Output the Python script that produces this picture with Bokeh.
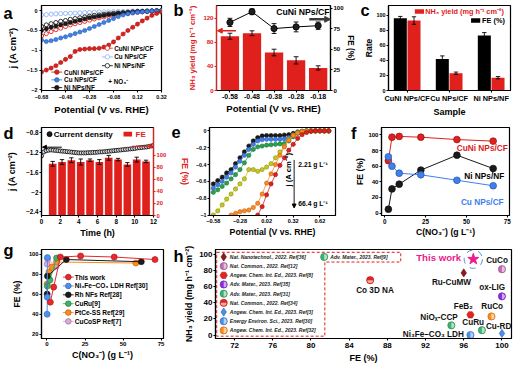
import math
from bokeh.plotting import figure
from bokeh.layouts import row, column
from bokeh.models import (Range1d, LinearAxis, FixedTicker, Label, Arrow, NormalHead,
                          CustomJSTickFormatter)
from bokeh.core.properties import value
from bokeh.embed import file_html
from bokeh.resources import INLINE

# ------------------------------------------------------------------ data
# (a) LSV curves
a_pot = [-0.68, -0.64, -0.60, -0.56, -0.52, -0.48, -0.44, -0.40, -0.36, -0.32, -0.28, -0.24, -0.20,
         -0.16, -0.12, -0.08, -0.04, 0.00, 0.04, 0.08, 0.12, 0.16, 0.20, 0.24, 0.28, 0.32]
a_cuni_no3 = [-1.55, -1.50, -1.45, -1.39, -1.31, -1.23, -1.16, -1.03, -0.98, -0.97, -0.96, -0.96, -0.95,
              -0.92, -0.87, -0.79, -0.69, -0.59, -0.50, -0.42, -0.34, -0.26, -0.19, -0.12, -0.07, -0.04]
a_cu_no3 = [-0.74, -0.78, -0.76, -0.73, -0.69, -0.66, -0.62, -0.58, -0.54, -0.50, -0.45, -0.40, -0.35,
            -0.30, -0.25, -0.20, -0.15, -0.11, -0.08, -0.06, -0.04, -0.03, -0.02, -0.01, -0.01, 0.00]
a_ni_no3 = [-0.50, -0.46, -0.42, -0.39, -0.36, -0.33, -0.30, -0.27, -0.24, -0.21, -0.18, -0.16, -0.14,
            -0.12, -0.10, -0.09, -0.07, -0.06, -0.05, -0.04, -0.03, -0.02, -0.02, -0.01, -0.01, 0.00]
a_cuni = [-0.64, -0.58, -0.53, -0.48, -0.44, -0.40, -0.36, -0.33, -0.30, -0.27, -0.24, -0.21, -0.18,
          -0.16, -0.14, -0.12, -0.10, -0.08, -0.07, -0.05, -0.04, -0.03, -0.02, -0.01, -0.01, 0.00]
a_cu = [-0.11, -0.10, -0.09, -0.08, -0.075, -0.07, -0.065, -0.06, -0.055, -0.05, -0.045, -0.04, -0.035,
        -0.03, -0.03, -0.025, -0.02, -0.02, -0.015, -0.01, -0.01, -0.01, -0.005, 0.0, 0.0, 0.0]
a_ni = [-0.40, -0.36, -0.33, -0.30, -0.27, -0.25, -0.22, -0.20, -0.18, -0.16, -0.14, -0.12, -0.11,
        -0.09, -0.08, -0.07, -0.06, -0.05, -0.04, -0.03, -0.02, -0.02, -0.01, -0.01, 0.0, 0.0]
a_names = ["CuNi NPs/CF", "Cu NPs/CF", "Ni NPs/NF"]

# (b) potential dependence
b_pot = ["-0.58", "-0.48", "-0.38", "-0.28", "-0.18"]
b_yield = [90, 95, 63, 50, 37.5]
b_yield_err = [5, 4, 5.5, 6, 3.5]
b_fe = [83, 96, 75.5, 77.5, 79]
b_fe_err = [5, 3.5, 6, 6, 4.5]

# (c) sample comparison
c_samples = ["CuNi NPs/CF", "Cu NPs/CF", "Ni NPs/NF"]
c_fe = [96, 42, 73]
c_fe_err = [2.5, 4, 4]
c_yield = [93, 23, 17]
c_yield_err = [5, 1.5, 1.5]
c_series = ["NH₃ yield (mg h⁻¹ cm⁻²)", "FE (%)"]

# (d) stability
d_time = [0, 0.25, 0.5, 0.75, 1, 1.25, 1.5, 1.75, 2, 2.25, 2.5, 2.75, 3, 3.25, 3.5, 3.75, 4,
          4.25, 4.5, 4.75, 5, 5.25, 5.5, 5.75, 6, 6.25, 6.5, 6.75, 7, 7.25, 7.5, 7.75, 8,
          8.25, 8.5, 8.75, 9, 9.25, 9.5, 9.75, 10, 10.25, 10.5, 10.75, 11, 11.25, 11.5, 11.75, 12]
d_j = [-1.27, -1.19, -1.165, -1.155, -1.15, -1.155, -1.16, -1.165, -1.17, -1.175, -1.18, -1.185,
       -1.19, -1.195, -1.20, -1.205, -1.21, -1.21, -1.21, -1.21, -1.205, -1.205, -1.20, -1.20,
       -1.195, -1.19, -1.19, -1.185, -1.18, -1.175, -1.17, -1.165, -1.16, -1.155, -1.15, -1.145,
       -1.14, -1.135, -1.13, -1.125, -1.12, -1.11, -1.105, -1.10, -1.095, -1.09, -1.08, -1.07, -1.06]
d_bar_time = [1.2, 2.2, 3.2, 4.2, 5.2, 6.2, 7.2, 8.2, 9.2, 10.2, 11.2]
d_fe = [86, 89, 92, 89, 92, 89, 96, 93, 85, 93, 90]
d_fe_err = [4, 4, 4, 5, 2, 4, 4, 2, 3, 4, 2]
d_series = ["Current density", "FE"]

# (e) LSV at different nitrate concentrations
NAN = float("nan")
e_pot = [-0.58, -0.53, -0.48, -0.43, -0.38, -0.33, -0.28, -0.23, -0.18, -0.13, -0.08, -0.03, 0.02,
         0.07, 0.12, 0.17, 0.22, 0.27, 0.32, 0.37, 0.42, 0.47, 0.52, 0.57, 0.62, 0.67, 0.72]
e_j_221 = [-0.63, -0.59, -0.55, -0.50, -0.46, -0.39, -0.32, -0.25, -0.18, -0.12, -0.08, -0.06, -0.055,
           -0.055, -0.055, -0.055, -0.05, -0.045, -0.03, -0.012, -0.004, 0, 0, 0, 0, 0, 0]
e_j_442 = [-0.68, -0.64, -0.60, -0.55, -0.50, -0.43, -0.36, -0.29, -0.22, -0.16, -0.12, -0.105, -0.10,
           -0.10, -0.10, -0.10, -0.095, -0.08, -0.05, -0.02, -0.006, 0, 0, 0, 0, 0, 0]
e_j_884 = [-0.73, -0.70, -0.66, -0.62, -0.57, -0.52, -0.46, -0.38, -0.29, -0.22, -0.19, -0.18, -0.17,
           -0.165, -0.16, -0.155, -0.15, -0.12, -0.07, -0.03, -0.01, -0.003, 0, 0, 0, 0, 0]
e_j_221x10 = [-1.0, -0.95, -0.88, -0.81, -0.75, -0.69, -0.63, -0.57, -0.46, -0.46, -0.48, -0.46, -0.43,
              -0.39, -0.32, -0.25, -0.18, -0.10, -0.05, -0.02, -0.006, 0, 0, 0, 0, 0, 0]
e_j_442x10 = [NAN, NAN, NAN, NAN, -1.0, -0.98, -0.96, -0.95, -0.94, -0.91, -0.86, -0.75, -0.62,
              -0.51, -0.40, -0.29, -0.19, -0.11, -0.055, -0.025, -0.01, -0.003, 0, 0, 0, 0, 0]
e_j_664 = [NAN, NAN, NAN, NAN, NAN, NAN, NAN, NAN, NAN, NAN, -1.0, -0.90, -0.76,
           -0.63, -0.52, -0.41, -0.32, -0.23, -0.16, -0.09, -0.045, -0.02, -0.007, 0, 0, 0, 0]
e_series = [e_j_221, e_j_442, e_j_884, e_j_221x10, e_j_442x10, e_j_664]
e_conc_labels = ["2.21 g L⁻¹", "66.4 g L⁻¹"]

# (f) FE vs nitrate concentration
f_conc = [2.21, 4.42, 8.84, 22.1, 44.2, 66.4]
f_cuni = [67, 97, 98, 97, 94, 92]
f_cu = [72, 60, 51, 49, 42, 35]
f_ni = [5, 31, 37, 55, 74, 57]

# (g) comparison with literature (FE vs concentration)
g_this_c = [2.2, 4.4, 8.8, 22.1, 44.2, 71.0]
g_this_fe = [52, 67, 97, 98, 97, 94.5]
g_ni3fe_c = [0.1, 0.2, 0.3]
g_ni3fe_fe = [40, 57, 96.5]
g_rh_c = [0.1, 0.3, 12.7, 62.0]
g_rh_fe = [60, 78, 94.5, 92.3]
g_curu_c = [0.2, 2.0, 6.3]
g_curu_fe = [68, 74, 96]
g_ptce_c = [0.1, 1.3, 3.2, 6.3, 58.4]
g_ptce_fe = [70, 82, 87, 92, 91]
g_cucosp_c = [0.1, 0.4, 6.0]
g_cucosp_fe = [90, 95, 88]
g_names = ["This work", "Ni₃Fe–CO₃ LDH Ref[30]", "Rh NFs Ref[28]", "CuRu[9]",
           "PtCe-SS Ref[29]", "CuCoSP Ref[7]"]

# (h) NH3 yield vs FE, literature
h_names = ["Ru-CuMW", "CuCo", "FeB₂", "ox-LIG", "NiOₓ-CCP", "Co 3D NA", "Cu-RD",
           "Ni₃Fe–CO₃ LDH", "RuCo", "CuRu"]
h_refs = ["Nat. Nanotechnol., 2022. Ref[36]", "Nat. Common., 2022. Ref[12]",
          "Angew. Chem. Int. Ed., 2023. Ref[8]", "Adv. Mater., 2023. Ref[35]",
          "Adv. Mater., 2023. Ref[31]", "Nat. Common., 2022. Ref[34]",
          "Angew. Chem. Int. Ed., 2023. Ref[3]", "Energy Environ. Sci., 2023. Ref[30]",
          "Angew. Chem. Int. Ed., 2023. Ref[32]", "Adv. Mater., 2023. Ref[9]"]
h_fe = [96.0, 100.0, 96.7, 100.0, 94.7, 86.2, 100.0, 96.7, 98.9, 97.9]
h_yield = [77, 81.6, 25, 48, 12, 68, 2, 0, 23, 6]
h_this_fe = [97.0]
h_this_yield = [94.0]
h_this_label = ["This work"]

# ------------------------------------------------------------------ styles
SX = 514 / 530
SY = 365 / 381
SF = 0.964
FONT = "Liberation Sans"
BLACK = "#1a1a1a"
RED = "#e0201c"
BLUE = "#3f80ee"
LBLUE = "#8fb5f5"
GREEN = "#27a24f"
YELLOW = "#c6c81c"
ORANGE = "#ff8a1e"
PINK = "#dcaadf"
MAGENTA = "#ec1a8c"


def fs(v):
    return f"{v * SF:.2f}px"


def mix(c1, c2, f):
    a = [int(c1[i:i + 2], 16) for i in (1, 3, 5)]
    b = [int(c2[i:i + 2], 16) for i in (1, 3, 5)]
    return "#%02x%02x%02x" % tuple(round(x * (1 - f) + y * f) for x, y in zip(a, b))


class Panel:
    def __init__(self, cols, rows, frame, xr, yr):
        c0, c1 = cols
        r0, r1 = rows
        self.L, self.R, self.T, self.B = frame
        self.xr, self.yr = xr, yr
        w = round(c1 * SX) - round(c0 * SX)
        h = round(r1 * SY) - round(r0 * SY)
        self.p = figure(width=w, height=h, x_range=Range1d(*xr), y_range=Range1d(*yr),
                        min_border_left=round(self.L * SX) - round(c0 * SX),
                        min_border_right=round(c1 * SX) - round(self.R * SX),
                        min_border_top=round(self.T * SY) - round(r0 * SY),
                        min_border_bottom=round(r1 * SY) - round(self.B * SY),
                        output_backend="svg", toolbar_location=None, tools="", title=None)
        p = self.p
        p.xgrid.visible = False
        p.ygrid.visible = False
        p.outline_line_color = "black"
        p.outline_line_width = 1.2
        p.outline_line_alpha = 1.0
        p.background_fill_color = "white"
        p.border_fill_color = "white"

    def dx(self, px):
        return self.xr[0] + (px - self.L) / (self.R - self.L) * (self.xr[1] - self.xr[0])

    def dy(self, py):
        return self.yr[1] - (py - self.T) / (self.B - self.T) * (self.yr[1] - self.yr[0])


def style_axis(ax, tick_fs, label_fs=None, color="black", tick_standoff=1, label_standoff=1):
    ax.axis_line_color = color
    ax.axis_line_width = 1.2
    ax.major_tick_line_color = color
    ax.major_tick_line_width = 1.1
    ax.major_tick_out = 2
    ax.major_tick_in = 0
    ax.minor_tick_line_color = None
    ax.major_label_text_font = FONT
    ax.major_label_text_font_style = "bold"
    ax.major_label_text_font_size = fs(tick_fs)
    ax.major_label_text_color = color
    ax.major_label_standoff = tick_standoff
    ax.axis_label_text_font = FONT
    ax.axis_label_text_font_style = "bold"
    if label_fs:
        ax.axis_label_text_font_size = fs(label_fs)
    ax.axis_label_text_color = color
    ax.axis_label_standoff = label_standoff


def add_label(P, px, py, text, size, color="black", align="left", baseline="middle",
              angle=0.0, style="bold"):
    P.p.add_layout(Label(x=P.dx(px), y=P.dy(py), text=text, text_font=FONT,
                         text_font_size=fs(size), text_font_style=style, text_color=color,
                         text_align=align, text_baseline=baseline, angle=angle))


def letter(P, side, py_center, text, standoff):
    """panel letter drawn as the single tick label of an extra, invisible outer axis
    (annotations are clipped to the plot frame, axes are not)"""
    ax = LinearAxis(ticker=FixedTicker(ticks=[P.dy(py_center)]),
                    formatter=CustomJSTickFormatter(code="return '%s';" % text))
    ax.axis_line_color = None
    ax.major_tick_line_color = None
    ax.minor_tick_line_color = None
    ax.major_tick_out = 0
    ax.major_tick_in = 0
    ax.major_label_standoff = standoff
    ax.major_label_text_font = FONT
    ax.major_label_text_font_style = "bold"
    ax.major_label_text_font_size = fs(17)
    ax.major_label_text_color = "black"
    P.p.add_layout(ax, side)


def key_line_marker(P, cx, cy, gw, col, fill, msize, lc=None):
    """legend swatch: short line with a marker in its middle (layout px of the reference)"""
    y = P.dy(cy)
    P.p.line([P.dx(cx - gw / 2), P.dx(cx + gw / 2)], [y, y], line_color=col, line_width=0.9)
    P.p.scatter([P.dx(cx)], [y], marker="circle", size=msize * SF, fill_color=fill,
                line_color=lc or col, line_width=0.8)


def key_box(P, x0, x1, y0, y1, col):
    P.p.quad(left=[P.dx(x0)], right=[P.dx(x1)], top=[P.dy(y0)], bottom=[P.dy(y1)],
             fill_color=col, line_color=None)


def errbars(p, xs, ys, errs, cap, **kw):
    lo = [y - e for y, e in zip(ys, errs)]
    hi = [y + e for y, e in zip(ys, errs)]
    p.segment(x0=xs, y0=lo, x1=xs, y1=hi, line_color="black", line_width=0.9, **kw)
    p.scatter(x=list(xs) + list(xs), y=lo + hi, marker="dash", size=cap * SF,
              line_color="black", line_width=0.9, **kw)


# ------------------------------------------------------------------ (a)
Pa = Panel((0, 175), (0, 124), (33, 166, 3, 100), (-0.68, 0.32), (-2.016, 0.13))
p = Pa.p
a_open = [(a_cuni, RED), (a_cu, LBLUE), (a_ni, BLACK)]
a_fill = [(a_cuni_no3, RED), (a_cu_no3, BLUE), (a_ni_no3, BLACK)]
for ys, col in a_open:
    p.line(a_pot, ys, line_color=col, line_width=0.8)
    p.scatter(a_pot, ys, marker="circle", size=4.3 * SF, fill_color="white",
              line_color=col, line_width=0.9)
for ys, col in a_fill[::-1]:
    p.line(a_pot, ys, line_color=col, line_width=0.8)
    p.scatter(a_pot, ys, marker="circle", size=4.3 * SF, fill_color=col,
              line_color=mix(col, "#000000", 0.3), line_width=0.6)
p.below[0].ticker = FixedTicker(ticks=[-0.68, -0.48, -0.28, -0.08, 0.12, 0.32])
p.below[0].axis_label = "Potential (V vs. RHE)"
style_axis(p.below[0], 5.6, 9.9, tick_standoff=2, label_standoff=2)
p.left[0].ticker = FixedTicker(ticks=[0, -0.5, -1.0, -1.5, -2.0])
p.left[0].axis_label = "j (A cm⁻²)"
style_axis(p.left[0], 5.6, 9.9, tick_standoff=2, label_standoff=6)
for i, (ys, col) in enumerate(a_open):
    cy = 51.7 + 10 * i
    key_line_marker(Pa, 106, cy, 12, col, "white", 4.6)
    add_label(Pa, 113.5, cy, a_names[i], 6.6)
for i, (ys, col) in enumerate(a_fill):
    cy = 79 + 8.85 * i
    key_line_marker(Pa, 50, cy, 12, col, col, 4.6, lc=mix(col, "#000000", 0.3))
    add_label(Pa, 58, cy, a_names[i], 6.6)
add_label(Pa, 107, 89.5, "+ NO₃⁻", 6.6)
letter(Pa, "left", 11.1, "a", -9)

# ------------------------------------------------------------------ (b)
Pb = Panel((175, 368), (0, 124), (214, 343, 4, 99.3), (-0.61, 4.56), (0, 141))
p = Pb.p
p.extra_y_ranges = {"fe": Range1d(0, 103.6)}
bx = list(range(len(b_pot)))
p.vbar(x=bx, top=b_yield, bottom=0, width=0.83, fill_color=RED, line_color=None)
errbars(p, bx, b_yield, b_yield_err, 5)
p.line(bx, b_fe, y_range_name="fe", line_color="black", line_width=1)
errbars(p, bx, b_fe, b_fe_err, 5, y_range_name="fe")
p.scatter(bx, b_fe, y_range_name="fe", marker="circle", size=6.5 * SF, fill_color="#1e1e1e",
          line_color="black", line_width=0.8)
p.add_layout(LinearAxis(y_range_name="fe", axis_label="FE (%)"), "right")
ax = p.below[0]
ax.ticker = FixedTicker(ticks=bx)
ax.major_label_overrides = {i: s for i, s in enumerate(b_pot)}
ax.axis_label = "Potential (V vs. RHE)"
style_axis(ax, 7.3, 9.9, tick_standoff=1, label_standoff=1)
ay = p.left[0]
ay.ticker = FixedTicker(ticks=[0, 40, 80, 120])
ay.axis_label = "NH₃ yield (mg h⁻¹ cm⁻²)"
style_axis(ay, 6.3, 8.0, color=RED, tick_standoff=1, label_standoff=3)
ar = p.right[0]
ar.ticker = FixedTicker(ticks=[0, 25, 50, 75, 100])
style_axis(ar, 6.3, 8.5, tick_standoff=1, label_standoff=-1)
add_label(Pb, 342, 11.7, "CuNi NPs/CF", 9.0, align="right")
p.add_layout(Arrow(end=NormalHead(size=6 * SF, fill_color="#3a3a3a", line_color="#3a3a3a"),
                   x_start=Pb.dx(319), y_start=Pb.dy(19.5), x_end=Pb.dx(343), y_end=Pb.dy(19.5),
                   line_color="#3a3a3a", line_width=2.4))
p.add_layout(Arrow(end=NormalHead(size=5 * SF, fill_color=RED, line_color=RED),
                   x_start=Pb.dx(236), y_start=Pb.dy(32.3), x_end=Pb.dx(215), y_end=Pb.dy(32.3),
                   line_color=RED, line_width=1.3))
letter(Pb, "left", 9.4, "b", 2)

# ------------------------------------------------------------------ (c)
Pc = Panel((368, 530), (0, 124), (393, 526, 5, 99.3), (-0.444, 2.46), (0, 113))
p = Pc.p
cx = list(range(len(c_samples)))
xb = [i - 0.163 for i in cx]
xr = [i + 0.163 for i in cx]
p.vbar(x=xb, top=c_fe, bottom=0, width=0.31, fill_color="black", line_color=None)
p.vbar(x=xr, top=c_yield, bottom=0, width=0.31, fill_color=RED, line_color=None)
errbars(p, xb, c_fe, c_fe_err, 4.5)
errbars(p, xr, c_yield, c_yield_err, 4.5)
ax = p.below[0]
ax.ticker = FixedTicker(ticks=cx)
ax.major_label_overrides = {i: s for i, s in enumerate(c_samples)}
ax.axis_label = "Sample"
style_axis(ax, 7.6, 9.4, tick_standoff=1, label_standoff=1)
ay = p.left[0]
ay.ticker = FixedTicker(ticks=[0, 20, 40, 60, 80, 100])
ay.axis_label = "Rate"
style_axis(ay, 5.6, 8.8, tick_standoff=1, label_standoff=0)
key_box(Pc, 421.7, 431.7, 9.2, 14.2, RED)
add_label(Pc, 433, 11.7, c_series[0], 7.6, color=RED)
key_box(Pc, 483, 493, 19.2, 24.2, "black")
add_label(Pc, 495, 21.7, c_series[1], 7.6)
letter(Pc, "left", 10.4, "c", -9)

# ------------------------------------------------------------------ (d)
Pd = Panel((0, 199), (124, 250), (33.3, 164, 131.7, 228.3), (0, 12), (-2.474, -0.697))
p = Pd.p
p.extra_y_ranges = {"fe": Range1d(0, 146.4)}
p.vbar(x=d_bar_time, top=d_fe, bottom=0, width=0.82, y_range_name="fe",
       fill_color=RED, line_color=None)
errbars(p, d_bar_time, d_fe, d_fe_err, 4.5, y_range_name="fe")
p.scatter(d_time, d_j, marker="circle", size=4.2 * SF, fill_color="#d9d9d9",
          line_color="black", line_width=0.8)
p.add_layout(LinearAxis(y_range_name="fe", axis_label="FE (%)"), "right")
ax = p.below[0]
ax.ticker = FixedTicker(ticks=[0, 2, 4, 6, 8, 10, 12])
ax.axis_label = "Time (h)"
style_axis(ax, 6.5, 9.3, tick_standoff=1, label_standoff=1)
ay = p.left[0]
ay.ticker = FixedTicker(ticks=[-0.8, -1.2, -1.6, -2.0, -2.4])
ay.axis_label = "j (A cm⁻²)"
style_axis(ay, 6.5, 9.3, tick_standoff=1, label_standoff=6)
ar = p.right[0]
ar.ticker = FixedTicker(ticks=[0, 20, 40, 60, 80, 100])
style_axis(ar, 6.0, 9.0, color=RED, tick_standoff=1, label_standoff=11)
key_line_marker(Pd, 42.7, 139, 0.1, "black", "#1a1a1a", 5.2)
add_label(Pd, 47.5, 139, d_series[0], 8.3)
key_box(Pd, 129, 139, 136.3, 141.7, RED)
add_label(Pd, 143, 139, d_series[1], 8.3, color=RED)
p.add_layout(Arrow(end=NormalHead(size=4 * SF, fill_color="black", line_color="black"),
                   x_start=Pd.dx(57), y_start=Pd.dy(153.3), x_end=Pd.dx(34.5), y_end=Pd.dy(153.3),
                   line_color="black", line_width=1))
p.add_layout(Arrow(end=NormalHead(size=4 * SF, fill_color=RED, line_color=RED),
                   x_start=Pd.dx(139), y_start=Pd.dy(152.3), x_end=Pd.dx(163.5), y_end=Pd.dy(152.3),
                   line_color=RED, line_width=1))
letter(Pd, "left", 137.7, "d", -9)
letter(Pd, "right", 136.1, "e", -22)

# ------------------------------------------------------------------ (e)
Pe = Panel((199, 352), (124, 250), (211, 345, 132.3, 228.3), (-0.623, 0.796), (-1.005, 0.04))
p = Pe.p
e_colors = [BLACK, BLUE, GREEN, YELLOW, ORANGE, RED]
for ys, col in zip(e_series, e_colors):
    p.line(e_pot, ys, line_color=col, line_width=0.8)
    p.scatter(e_pot, ys, marker="circle", size=4.4 * SF, fill_color=col,
              line_color=mix(col, "#000000", 0.3), line_width=0.6)
ax = p.below[0]
ax.ticker = FixedTicker(ticks=[-0.58, -0.28, 0.02, 0.32, 0.62])
ax.axis_label = "Potential (V vs. RHE)"
style_axis(ax, 5.8, 9.0, tick_standoff=1, label_standoff=1)
ay = p.left[0]
ay.ticker = FixedTicker(ticks=[0.0, -0.2, -0.4, -0.6, -0.8, -1.0])
style_axis(ay, 5.5, None, tick_standoff=1, label_standoff=0)
p.add_layout(Arrow(end=NormalHead(size=4 * SF, fill_color="black", line_color="black"),
                   x_start=Pe.dx(301), y_start=Pe.dy(167.7), x_end=Pe.dx(301), y_end=Pe.dy(220),
                   line_color="black", line_width=0.9))
add_label(Pe, 305.5, 172.3, e_conc_labels[0], 7.0)
add_label(Pe, 305.5, 215.7, e_conc_labels[1], 7.0)
add_label(Pe, 295.5, 178.3, "j (A cm⁻²)", 8.0, align="center", angle=math.pi / 2)

# ------------------------------------------------------------------ (f)
Pf = Panel((352, 530), (124, 250), (393.3, 525, 131.7, 231), (-2, 76.4), (-3, 109.4))
p = Pf.p
for ys, col in [(f_ni, BLACK), (f_cuni, RED), (f_cu, BLUE)]:
    p.line(f_conc, ys, line_color=col, line_width=1)
    p.scatter(f_conc, ys, marker="circle", size=7 * SF, fill_color=col,
              line_color=mix(col, "#000000", 0.35), line_width=0.7)
ax = p.below[0]
ax.ticker = FixedTicker(ticks=[0, 25, 50, 75])
ax.axis_label = "C(NO₃⁻) (g L⁻¹)"
style_axis(ax, 6.5, 9.0, tick_standoff=1, label_standoff=0)
ay = p.left[0]
ay.ticker = FixedTicker(ticks=[0, 20, 40, 60, 80, 100])
ay.axis_label = "FE (%)"
style_axis(ay, 6.3, 9.0, tick_standoff=1, label_standoff=0)
add_label(Pf, 497, 155, "CuNi NPs/CF", 8.6, color=RED, align="center")
add_label(Pf, 499, 186, "Ni NPs/NF", 8.6, align="center")
add_label(Pf, 497, 216, "Cu NPs/CF", 8.6, color=BLUE, align="center")
letter(Pf, "left", 137.7, "f", -4)

# ------------------------------------------------------------------ (g)
Pg = Panel((0, 175), (250, 381), (33.3, 168.3, 260, 359), (-3.6, 76.6), (15.8, 104.5))
p = Pg.p
g_data = [(g_this_c, g_this_fe, "#e8282b"), (g_ni3fe_c, g_ni3fe_fe, "#4d8ff0"),
          (g_rh_c, g_rh_fe, BLACK), (g_curu_c, g_curu_fe, "#3cb36a"),
          (g_ptce_c, g_ptce_fe, ORANGE), (g_cucosp_c, g_cucosp_fe, PINK)]
for xs, ys, col in g_data[::-1]:
    p.line(xs, ys, line_color=col, line_width=1)
    p.scatter(xs, ys, marker="circle", size=6.3 * SF, fill_color=col,
              line_color=mix(col, "#000000", 0.3), line_width=0.6)
ax = p.below[0]
ax.ticker = FixedTicker(ticks=[0, 25, 50, 75])
ax.axis_label = "C(NO₃⁻) (g L⁻¹)"
style_axis(ax, 6.3, 9.3, tick_standoff=1, label_standoff=1)
ay = p.left[0]
ay.ticker = FixedTicker(ticks=[20, 40, 60, 80, 100])
ay.axis_label = "FE (%)"
style_axis(ay, 6.0, 9.0, tick_standoff=1, label_standoff=4)
for i, (xs, ys, col) in enumerate(g_data):
    cy = 290.7 + 9.86 * i
    key_line_marker(Pg, 63, cy, 12, col, col, 5.8, lc=mix(col, "#000000", 0.3))
    add_label(Pg, 70, cy, g_names[i], 6.8)
letter(Pg, "left", 261.1, "g", -5)

# ------------------------------------------------------------------ (h)
Ph = Panel((175, 530), (250, 381), (213, 527, 257, 353), (70, 101), (-4.3, 106))
p = Ph.p
H_COLORS = ["#8b1a1a", "#c06cb4", "#e8231f", "#8a2be2", "#3cb371", "#e8231f", "#4a8fe8",
            "#4a8fe8", "#ff8c1a", "#3cb371"]
H_MARKERS = ["diamond", "circle", "hex", "circle", "circle", "circle", "diamond", "circle",
             "circle", "circle"]
RH = (-math.pi / 2, math.pi / 2)
H_HALF = [None, RH, None, RH, RH, (math.pi, 2 * math.pi), None, RH, RH, RH]
H_OFF = [(-12.7, 10.4), (-5, -9.3), (-7.3, -8.7), (-10, -9), (-12.7, -8), (5, 10.7),
         (-3.4, -7.7), (-38.3, -1), (0.7, -10.3), (-9, -8.3)]
# dashed L-shaped frame around the reference list
bx_px = [214.3, 409.5, 409.5, 329, 329, 214.3, 214.3]
by_px = [260, 260, 270.5, 270.5, 350.5, 350.5, 260]
p.line([Ph.dx(v) for v in bx_px], [Ph.dy(v) for v in by_px], line_color=RED,
       line_width=1, line_dash="3 2")


def h_marker(xs, ys, i):
    col = H_COLORS[i]
    sz = 8.5 if H_MARKERS[i] == "diamond" else 7.5
    p.scatter(xs, ys, marker=H_MARKERS[i], size=sz * SF, fill_color=col,
              line_color=mix(col, "#000000", 0.3), line_width=0.6)
    if H_HALF[i] is not None:
        p.wedge(xs, ys, radius=3.0 * SF, radius_units="screen",
                start_angle=H_HALF[i][0], end_angle=H_HALF[i][1],
                fill_color=mix(col, "#ffffff", 0.6), line_color=None)


for i in range(len(h_refs)):
    h_marker([h_fe[i]], [h_yield[i]], i)
    ox, oy = H_OFF[i]
    p.text([h_fe[i]], [h_yield[i]], text=[h_names[i]], x_offset=ox * SX, y_offset=oy * SY,
           text_align="center", text_baseline="middle", text_font=value(FONT),
           text_font_size=fs(8.5), text_font_style="bold", text_color="#111111")
# legend list of references
for i in range(len(h_refs)):
    if i < 9:
        gx, cy = 221.7, 265 + 9.91 * i
    else:
        gx, cy = 328.3, 265
    h_marker([Ph.dx(gx)], [Ph.dy(cy)], i)
    add_label(Ph, gx + 6.5, cy, h_refs[i], 5.2, color="#222222", style="bold italic")
p.scatter(h_this_fe, h_this_yield, marker="circle", size=19 * SF, fill_color=None,
          line_color="#4a90e2", line_width=1, line_dash="dashed")
p.scatter(h_this_fe, h_this_yield, marker="star", size=12 * SF, fill_color=MAGENTA,
          line_color=MAGENTA)
p.text(h_this_fe, h_this_yield, text=h_this_label, x_offset=-35.7 * SX, y_offset=-1.7 * SY,
       text_align="center", text_baseline="middle", text_font=value(FONT),
       text_font_size=fs(10), text_font_style="bold", text_color=MAGENTA)
ax = p.below[0]
ax.ticker = FixedTicker(ticks=[72, 76, 80, 84, 88, 92, 96, 100])
ax.axis_label = "FE (%)"
style_axis(ax, 8.3, 9.4, tick_standoff=2, label_standoff=2)
ay = p.left[0]
ay.ticker = FixedTicker(ticks=[0, 20, 40, 60, 80, 100])
ay.axis_label = "NH₃ yield (mg h⁻¹ cm⁻²)"
style_axis(ay, 8.3, 9.2, tick_standoff=1, label_standoff=2)
letter(Ph, "left", 264.4, "h", -2)

# ------------------------------------------------------------------ layout
layout = column(row(Pa.p, Pb.p, Pc.p), row(Pd.p, Pe.p, Pf.p), row(Pg.p, Ph.p))
open("out.html", "w").write(file_html(layout, INLINE))
